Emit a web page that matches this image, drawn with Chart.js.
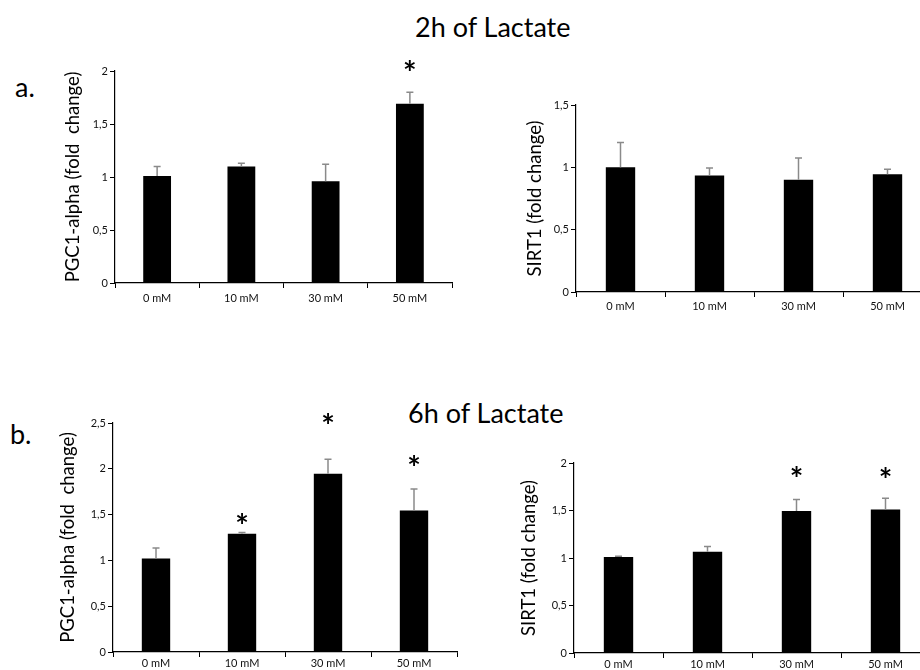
<!DOCTYPE html>
<html>
<head>
<meta charset="utf-8">
<script src="https://cdn.jsdelivr.net/npm/chart.js@4"></script>
<style>
  html, body { margin: 0; padding: 0; background: #fff; }
  body { width: 920px; height: 670px; overflow: hidden; position: relative; font-family: Lato, sans-serif; color: #000; }
  canvas { position: absolute; left: 0; top: 0; }
  .txt { position: absolute; white-space: nowrap; line-height: 1; }
</style>
</head>
<body>
<div class="txt" style="left:415px; top:13px; font-size:27px;">2h of Lactate</div>
<div class="txt" style="left:408px; top:399px; font-size:27px;">6h of Lactate</div>
<div class="txt" style="left:15px; top:73px; font-size:27px;">a.</div>
<div class="txt" style="left:10px; top:420px; font-size:27px;">b.</div>
<canvas id="pgc2h" width="960" height="670"></canvas>
<canvas id="sirt2h" width="960" height="670"></canvas>
<canvas id="pgc6h" width="960" height="670"></canvas>
<canvas id="sirt6h" width="960" height="670"></canvas>
<script>
const doses = ['0 mM', '10 mM', '30 mM', '50 mM'];

// 2h of lactate
const pgc2h = [1.01, 1.10, 0.96, 1.69];
const pgc2hSem = [0.09, 0.03, 0.16, 0.11];
const pgc2hStar = [null, null, null, 2.06];
const pgc2hTicks = ['0', '0,5', '1', '1,5', '2'];

const sirt2h = [1.00, 0.935, 0.90, 0.945];
const sirt2hSem = [0.20, 0.06, 0.175, 0.04];
const sirt2hStar = [null, null, null, null];
const sirt2hTicks = ['0', '0,5', '1', '1,5'];

// 6h of lactate
const pgc6h = [1.02, 1.29, 1.945, 1.545];
const pgc6hSem = [0.115, 0.015, 0.16, 0.235];
const pgc6hStar = [null, 1.46, 2.56, 2.10];
const pgc6hTicks = ['0', '0,5', '1', '1,5', '2', '2,5'];

const sirt6h = [1.01, 1.065, 1.495, 1.51];
const sirt6hSem = [0.008, 0.055, 0.12, 0.12];
const sirt6hStar = [null, null, 1.92, 1.91];
const sirt6hTicks = ['0', '0,5', '1', '1,5', '2'];

const FONT = 'Lato, sans-serif';

// draws the upper error bars and the significance stars
const errorBarPlugin = {
  id: 'errorBars',
  afterDatasetsDraw(chart, args, opts) {
    const { ctx } = chart;
    const yScale = chart.scales.y;
    const meta = chart.getDatasetMeta(0);
    const values = chart.data.datasets[0].data;
    ctx.save();
    ctx.strokeStyle = '#8a8a8a';
    ctx.lineWidth = 1.5;
    meta.data.forEach((bar, i) => {
      const yTop = yScale.getPixelForValue(values[i] + opts.sem[i]);
      ctx.beginPath();
      ctx.moveTo(bar.x, bar.y);
      ctx.lineTo(bar.x, yTop);
      ctx.moveTo(bar.x - 3.5, yTop);
      ctx.lineTo(bar.x + 3.5, yTop);
      ctx.stroke();
    });
    ctx.fillStyle = '#000';
    ctx.font = 'bold 32px ' + FONT;
    ctx.textAlign = 'center';
    ctx.textBaseline = 'alphabetic';
    const m = ctx.measureText('*');
    const shift = (m.actualBoundingBoxAscent - m.actualBoundingBoxDescent) / 2;
    meta.data.forEach((bar, i) => {
      if (opts.stars[i] === null) return;
      const yc = yScale.getPixelForValue(opts.stars[i]);
      ctx.fillText('*', bar.x, yc + shift);
    });
    ctx.restore();
  },
};

function makeChart(id, cfg) {
  return new Chart(document.getElementById(id), {
    type: 'bar',
    data: {
      labels: doses,
      datasets: [{
        data: cfg.values,
        backgroundColor: '#000',
        borderWidth: 0,
        categoryPercentage: 1,
        barPercentage: 0.33,
      }],
    },
    plugins: [errorBarPlugin],
    options: {
      responsive: false,
      animation: false,
      devicePixelRatio: 1,
      layout: { padding: cfg.padding },
      plugins: {
        legend: { display: false },
        tooltip: { enabled: false },
        errorBars: { sem: cfg.sem, stars: cfg.stars },
      },
      scales: {
        x: {
          grid: { drawOnChartArea: false, drawTicks: true, tickLength: 5, color: '#000', offset: true },
          border: { display: true, color: '#000', width: 1.2 },
          ticks: { color: '#111', font: { family: FONT, size: 11 }, padding: cfg.xPad, maxRotation: 0, autoSkip: false },
          afterFit: (scale) => { scale.height = cfg.xHeight; },
        },
        y: {
          min: 0,
          max: cfg.max,
          grid: { drawOnChartArea: false, drawTicks: true, tickLength: 5, color: '#000' },
          border: { display: true, color: '#000', width: 1.2 },
          ticks: {
            stepSize: 0.5,
            color: '#111',
            padding: 2,
            font: { family: FONT, size: 11 },
            callback: (v, i) => cfg.ticks[i],
          },
          title: {
            display: true,
            text: cfg.title,
            color: '#000',
            font: { family: FONT, size: 18.5, lineHeight: 1.2 },
            padding: 0,
          },
          afterFit: (scale) => { scale.width = cfg.yWidth; },
        },
      },
    },
  });
}

makeChart('pgc2h', {
  values: pgc2h, sem: pgc2hSem, stars: pgc2hStar, ticks: pgc2hTicks, max: 2,
  title: 'PGC1-alpha (fold  change)',
  padding: { left: 62, top: 71, right: 508, bottom: 357 }, yWidth: 53, xHeight: 30, xPad: 4,
});

makeChart('sirt2h', {
  values: sirt2h, sem: sirt2hSem, stars: sirt2hStar, ticks: sirt2hTicks, max: 1.5,
  title: 'SIRT1 (fold change)',
  padding: { left: 524, top: 105, right: 28, bottom: 348 }, yWidth: 52, xHeight: 30, xPad: 3,
});

makeChart('pgc6h', {
  values: pgc6h, sem: pgc6hSem, stars: pgc6hStar, ticks: pgc6hTicks, max: 2.5,
  title: 'PGC1-alpha (fold  change)',
  padding: { left: 57, top: 423, right: 503, bottom: 0 }, yWidth: 56, xHeight: 18, xPad: 0,
});

makeChart('sirt6h', {
  values: sirt6h, sem: sirt6hSem, stars: sirt6hStar, ticks: sirt6hTicks, max: 2,
  title: 'SIRT1 (fold change)',
  padding: { left: 518, top: 463, right: 30, bottom: 0 }, yWidth: 56, xHeight: 17, xPad: 0,
});
</script>
</body>
</html>
